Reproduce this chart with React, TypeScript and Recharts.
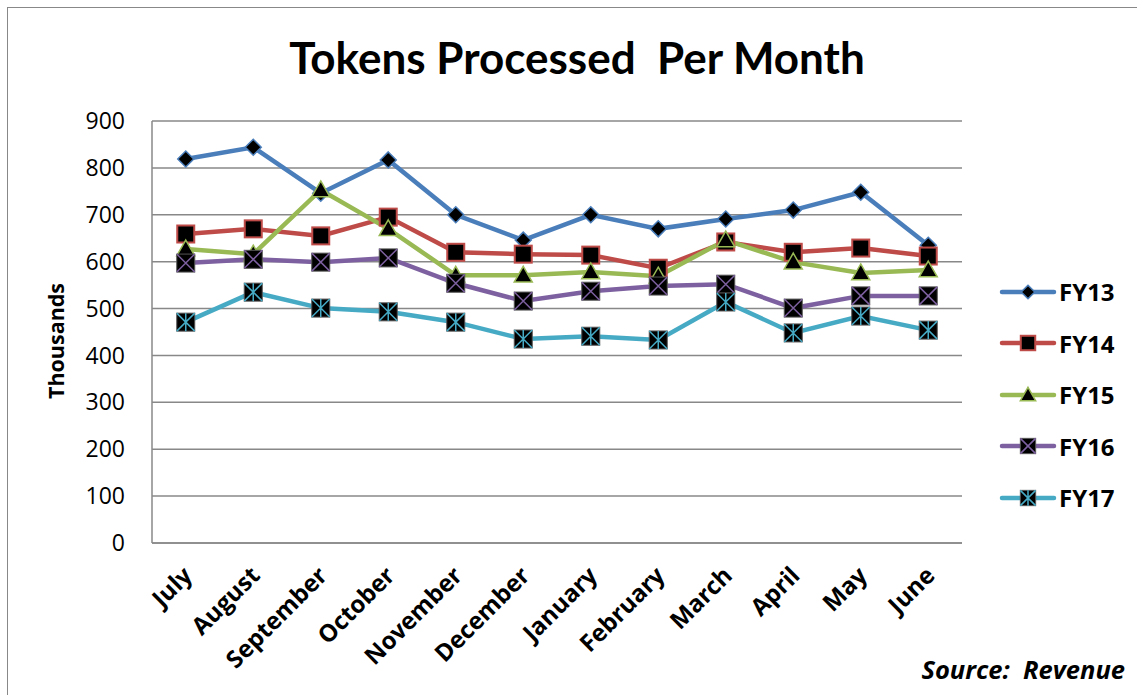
import React from 'react'
import { LineChart, Line, XAxis, YAxis, CartesianGrid } from 'recharts'

const months = ['July', 'August', 'September', 'October', 'November', 'December', 'January', 'February', 'March', 'April', 'May', 'June']
const fy13 = [819, 844, 746, 817, 700, 646, 700, 670, 691, 710, 748, 635]
const fy14 = [659, 670, 655, 695, 620, 616, 614, 586, 642, 620, 629, 612]
const fy15 = [627, 616, 753, 670, 571, 571, 578, 569, 646, 599, 576, 582]
const fy16 = [597, 605, 599, 608, 554, 516, 537, 548, 552, 501, 527, 527]
const fy17 = [471, 535, 501, 493, 471, 435, 441, 433, 514, 448, 484, 454]
const yTicks = [0, 100, 200, 300, 400, 500, 600, 700, 800, 900]

const data = months.map((m, i) => ({
  month: m,
  FY13: fy13[i],
  FY14: fy14[i],
  FY15: fy15[i],
  FY16: fy16[i],
  FY17: fy17[i],
}))

const FONT = '"Open Sans", sans-serif'
const TITLE_FONT = 'Lato, "Open Sans", sans-serif'

type MarkerKind = 'diamond' | 'square' | 'triangle' | 'xsquare' | 'star'

const series: { key: string; color: string; marker: MarkerKind }[] = [
  { key: 'FY13', color: '#4a7ebb', marker: 'diamond' },
  { key: 'FY14', color: '#be4b48', marker: 'square' },
  { key: 'FY15', color: '#98b954', marker: 'triangle' },
  { key: 'FY16', color: '#7d60a0', marker: 'xsquare' },
  { key: 'FY17', color: '#46aac5', marker: 'star' },
]

function Marker({ kind, color, cx, cy, s = 1 }: { kind: MarkerKind; color: string; cx: number; cy: number; s?: number }) {
  if (cx == null || cy == null) return null
  if (kind === 'diamond') {
    const r = 8 * s
    return <path d={`M${cx},${cy - r}L${cx + r},${cy}L${cx},${cy + r}L${cx - r},${cy}Z`} fill="#000" stroke={color} strokeWidth={1.5} />
  }
  if (kind === 'square') {
    const h = 8.5 * s
    return <rect x={cx - h} y={cy - h} width={2 * h} height={2 * h} fill="#000" stroke={color} strokeWidth={2} />
  }
  if (kind === 'triangle') {
    const r = 9 * s
    return <path d={`M${cx},${cy - r}L${cx + r},${cy + r * 0.75}L${cx - r},${cy + r * 0.75}Z`} fill="#000" stroke={color} strokeWidth={1.5} />
  }
  const h = 9 * s
  if (kind === 'xsquare') {
    return (
      <g>
        <rect x={cx - h} y={cy - h} width={2 * h} height={2 * h} fill="#000" stroke="#555" strokeWidth={1} />
        <path d={`M${cx - h},${cy - h}L${cx + h},${cy + h}M${cx + h},${cy - h}L${cx - h},${cy + h}`} stroke={color} strokeWidth={1.5} />
      </g>
    )
  }
  return (
    <g>
      <rect x={cx - h} y={cy - h} width={2 * h} height={2 * h} fill="#000" stroke="#555" strokeWidth={1} />
      <path d={`M${cx - h},${cy - h}L${cx + h},${cy + h}M${cx + h},${cy - h}L${cx - h},${cy + h}M${cx},${cy - h}L${cx},${cy + h}`} stroke={color} strokeWidth={1.5} />
    </g>
  )
}

function MonthTick(props: any) {
  const { x, y, payload } = props
  const tx = x + 8
  const ty = y + 26
  return (
    <text x={tx} y={ty} transform={`rotate(-45, ${tx}, ${ty})`} textAnchor="end" fontFamily={FONT} fontWeight="bold" fontSize={24} fill="#000">
      {payload.value}
    </text>
  )
}

function LegendBox() {
  return (
    <div style={{ position: 'absolute', left: 999, top: 266, fontFamily: FONT }}>
      {series.map((s) => (
        <div key={s.key} style={{ display: 'flex', alignItems: 'center', height: 51.5 }}>
          <svg width={58} height={24}>
            <line x1={3} y1={12} x2={55} y2={12} stroke={s.color} strokeWidth={4.5} strokeLinecap="round" />
            <Marker kind={s.marker} color={s.color} cx={29} cy={12} s={0.85} />
          </svg>
          <span style={{ fontWeight: 'bold', fontSize: 24, marginLeft: 2 }}>{s.key}</span>
        </div>
      ))}
    </div>
  )
}

export default function App() {
  return (
    <div style={{ position: 'absolute', left: 0, top: 0, width: 1137, height: 695, background: '#fff', overflow: 'hidden' }}>
      <div style={{ position: 'absolute', left: 7, top: 7, width: 1140, height: 700, border: '1.5px solid #888' }} />
      <div style={{ position: 'absolute', left: 0, top: 31, width: 1154, textAlign: 'center', fontFamily: TITLE_FONT, fontWeight: 'bold', fontSize: 44, color: '#000', whiteSpace: 'pre' }}>
        {'Tokens Processed  Per Month'}
      </div>
      <div style={{ position: 'absolute', left: 55, top: 341, transform: 'translate(-50%, -50%) rotate(-90deg)', fontFamily: FONT, fontWeight: 'bold', fontSize: 21.5, color: '#000' }}>
        Thousands
      </div>
      <div style={{ position: 'absolute', right: 12, top: 652, fontFamily: FONT, fontWeight: 'bold', fontStyle: 'italic', fontSize: 25.5, color: '#000', whiteSpace: 'pre' }}>
        {'Source:  Revenue'}
      </div>
      <div style={{ position: 'absolute', left: 0, top: 0 }}>
        <LineChart width={1137} height={695} data={data} margin={{ top: 121, right: 175, bottom: 0, left: 0 }}>
          <CartesianGrid vertical={false} stroke="#888" strokeWidth={1.5} />
          <XAxis
            dataKey="month"
            tick={<MonthTick />}
            tickLine={false}
            axisLine={{ stroke: '#888', strokeWidth: 1.5 }}
            interval={0}
            height={152}
            padding={{ left: 33.75, right: 33.75 }}
          />
          <YAxis
            domain={[0, 900]}
            ticks={yTicks}
            interval={0}
            width={152}
            tickLine={false}
            tickSize={0}
            tickMargin={27}
            axisLine={{ stroke: '#888', strokeWidth: 1.5 }}
            tick={{ fontFamily: FONT, fontSize: 23, fill: '#000' }}
          />
          {series.map((s) => (
            <Line
              key={s.key}
              dataKey={s.key}
              stroke={s.color}
              strokeWidth={4.5}
              isAnimationActive={false}
              dot={(p: any) => <Marker key={`${s.key}-${p.index}`} kind={s.marker} color={s.color} cx={p.cx} cy={p.cy} />}
              activeDot={false}
            />
          ))}
        </LineChart>
      </div>
      <LegendBox />
    </div>
  )
}
